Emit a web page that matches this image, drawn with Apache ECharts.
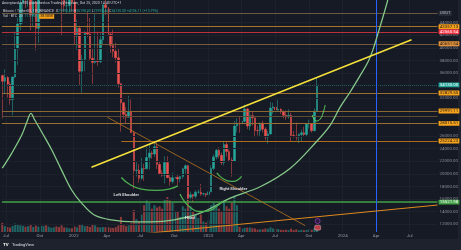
<!DOCTYPE html>
<html>
<head>
<meta charset="utf-8">
<script src="https://cdn.jsdelivr.net/npm/echarts@6.0.0/dist/echarts.min.js"></script>
<style>
  html, body { margin: 0; padding: 0; background: #161a25; }
  #chart { width: 461px; height: 250px; }
</style>
</head>
<body>
<div id="chart"></div>
<script>
// weekly bars, first one = week of 2021-06-21
var WEEK0 = Date.UTC(2021, 5, 21)
function weekOf(y, m, d) { return (Date.UTC(y, m - 1, d) - WEEK0) / (7 * 86400000) }

// [open, high, low, close]
var bars2021 = [
  [35600, 35750, 28800, 34700], [34700, 36600, 32700, 35300], [35300, 35500, 32100, 34250], [34250, 34650, 31000, 31800],
  [31800, 35400, 29300, 35400], [35400, 42600, 35200, 39850], [39850, 44800, 37300, 43800], [43800, 48150, 42800, 47100],
  [47100, 49400, 43900, 49000], [49000, 50500, 46300, 48900], [48900, 52900, 46500, 51800], [51800, 52900, 42800, 45200],
  [45200, 48850, 43400, 47300], [47300, 47400, 39600, 43100], [43100, 49200, 40800, 48200], [48200, 56100, 46900, 54950],
  [54950, 62000, 54400, 61500], [61500, 67000, 59500, 61300], [61300, 63700, 58000, 61800], [61800, 64300, 59400, 63300],
  [63300, 69000, 62300, 65500], [65500, 66300, 55600, 58600], [58600, 59300, 53250, 57300], [57300, 59100, 42000, 49400],
  [49400, 51950, 45700, 46700], [46700, 49500, 45500, 46700], [46700, 51900, 45600, 50800], [50800, 52100, 45700, 47300]
]
var bars2022 = [
  [47300, 47600, 40600, 41850], [41850, 44500, 39650, 43100], [43100, 43500, 34000, 36300], [36300, 38900, 32900, 38150],
  [38150, 42700, 36300, 42400], [42400, 45800, 41700, 42200], [42200, 44750, 38000, 38350], [38350, 39850, 34300, 37700],
  [37700, 45400, 37500, 38050], [38050, 42600, 37150, 37800], [37800, 42300, 37600, 41300], [41300, 46900, 40500, 46830],
  [46830, 48200, 45200, 46400], [46400, 47450, 41800, 42150], [42150, 42450, 39200, 40400], [40400, 42900, 38500, 39450],
  [39450, 40800, 37700, 38450], [38450, 40000, 33700, 34300], [34300, 34450, 26700, 31300], [31300, 31350, 28700, 29450],
  [29450, 30650, 28000, 29000], [29000, 32400, 28900, 29900], [29900, 31800, 26500, 26550], [26550, 26850, 17600, 20550],
  [20550, 21900, 19600, 20600], [20600, 21550, 18600, 19300], [19300, 22500, 19050, 20850], [20850, 21600, 18900, 20800],
  [20800, 24300, 20750, 22600], [22600, 24650, 20700, 23300], [23300, 23650, 22400, 23150], [23150, 25200, 22650, 24300],
  [24300, 25200, 20800, 21500], [21500, 22000, 19800, 20050], [20050, 20600, 19550, 19800], [19800, 22800, 18500, 21800],
  [21800, 22800, 19350, 19400], [19400, 19900, 18130, 18800], [18800, 20200, 18450, 19400], [19300, 20450, 19150, 19450],
  [19450, 19950, 18200, 19200], [19200, 19700, 18650, 19570], [19570, 21000, 19250, 20800], [20800, 21500, 20000, 21300],
  [21300, 21450, 15600, 16300], [16300, 17200, 15800, 16700], [16700, 16800, 15500, 16450], [16450, 17400, 16100, 17100],
  [17100, 17500, 16850, 17100], [17100, 18400, 16500, 16800], [16800, 17000, 16550, 16850], [16850, 16950, 16300, 16700]
]
var bars2023 = [
  [16700, 17200, 16600, 17150], [17150, 21300, 17100, 20850], [20850, 23100, 20600, 22700], [22700, 23950, 22300, 23750],
  [23750, 24250, 22500, 22950], [22950, 23400, 21400, 21800], [21800, 25250, 21350, 24650], [24650, 25250, 22750, 23550],
  [23550, 23900, 21950, 22200], [22200, 22600, 19550, 22000], [22000, 28400, 21900, 27600], [27600, 28850, 26600, 28000],
  [28000, 29200, 26500, 27950], [27950, 28800, 27250, 28350], [28350, 31000, 28150, 30300], [30300, 30500, 27100, 27600],
  [27600, 30000, 26950, 29250], [29250, 29850, 27700, 28900], [28900, 28900, 25800, 26900], [26900, 27650, 26100, 26850],
  [26850, 28200, 25850, 28050], [28050, 28450, 26550, 27100], [27100, 27400, 25350, 25850], [25850, 26800, 24800, 26350],
  [26350, 31400, 26250, 30450], [30450, 31300, 29500, 30600], [30600, 31500, 29700, 30150], [30150, 31800, 29950, 30250],
  [30250, 30450, 29500, 29950], [29950, 30000, 28850, 29300], [29300, 30050, 28600, 29050], [29050, 30250, 28750, 29300],
  [29300, 29700, 25150, 26100], [26100, 26800, 25750, 26000], [26000, 28150, 25350, 25850], [25850, 26450, 24900, 26250],
  [26250, 27000, 25150, 26550], [26550, 27500, 26000, 26250], [26250, 28000, 26000, 27950], [27950, 28600, 27200, 27950],
  [27950, 28000, 26550, 26850], [26850, 30400, 26750, 29950], [29950, 35200, 29950, 34130]
]

// weekly volume, thousand BTC
var vol2021 = [780, 500, 430, 380, 520, 720, 620, 580, 530, 460, 500, 620, 430, 550, 460, 540, 510, 580, 460, 360, 400, 490, 420, 580, 400, 370, 310, 330]
var vol2022 = [480, 390, 600, 680, 500, 520, 430, 600, 570, 410, 400, 420, 410, 420, 370, 350, 410, 570, 1300, 600, 500, 570, 750, 1900, 1100, 900,
  1500, 2300, 2700, 2500, 2000, 2300, 2100, 2200, 2000, 2800, 3000, 2700, 2500, 1700, 1800, 1300, 2200, 2000, 3300, 2200, 1800, 1500, 1200, 1500, 900, 800]
var vol2023 = [1000, 2300, 2500, 2200, 2000, 1800, 2600, 2200, 2000, 2500, 3100, 2300, 450, 280, 360, 380, 380, 330, 300, 210, 230, 240, 300, 280,
  400, 300, 240, 260, 190, 180, 200, 160, 290, 170, 230, 150, 190, 160, 180, 220, 190, 320, 300]
// orange volume average line [week, thousand BTC]
var volAvg = [[0, 600], [15.3, 620], [30.8, 600], [38.5, 480], [46.2, 560], [53.9, 650], [57.7, 770], [61.6, 1370], [63.5, 1630], [65.4, 2140],
  [67.8, 2310], [69.7, 2200], [71.2, 1460], [73.2, 1200], [75.1, 1370], [77, 1460], [79.7, 1710], [82, 1890], [84.7, 2060], [87.4, 2140],
  [89.7, 2570], [90.9, 2400], [92.4, 860], [93.6, 510], [96.3, 300], [104, 260], [111.7, 240], [122.1, 230]]

var timeTickDates = [[2021, 7, 1], [2021, 10, 1], [2022, 1, 1], [2022, 4, 1], [2022, 7, 1], [2022, 10, 1], [2023, 1, 1], [2023, 4, 1],
  [2023, 7, 1], [2023, 10, 1], [2024, 1, 1], [2024, 4, 1], [2024, 7, 1]]
var timeLabels = ['Jul', 'Oct', '2022', 'Apr', 'Jul', 'Oct', '2023', 'Apr', 'Jul', 'Oct', '2024', 'Apr', 'Jul']
var priceLabels = [12000, 14000, 16000, 18000, 20000, 22000, 24000, 26000, 32000, 36000, 38000, 40000, 42000, 44000]
var priceGrid = [12000, 14000, 16000, 18000, 20000, 22000, 24000, 26000, 28000, 30000, 32000, 34000, 36000, 38000, 40000, 42000, 44000]

// horizontal levels drawn on the chart
var levelPrices = [45490, 43357.13, 42560.54, 40651.54, 32829.55, 29991.11, 29190, 28015.51, 15521.98]
var lastPrice = 34130
var partialLevel = [[46.2, 25224.23], [168.8, 25224.23]]
var halvingWeek = 144.9

// drawings [week, price]
var yellowTrend = [[34.6, 21050], [158.7, 41300]]
var orangeFall = [[40.8, 28980], [117.5, 11780]]
var orangeRise = [[50, 10320], [168.8, 15060]]
var bigCurve = [[0, 20900], [3.7, 23300], [7.6, 26200], [9.5, 28200], [11.1, 29600], [12.6, 28550], [15.3, 26650], [19.2, 23800],
  [23, 20600], [26.9, 17450], [30.7, 15400], [35.7, 13480], [42.3, 12700], [51.2, 12400], [57.7, 12400], [66.6, 12700],
  [77, 13800], [88.6, 16200], [100.2, 18000], [111.7, 20900], [121.8, 25100], [127.2, 27750], [131, 30600], [134.9, 33000],
  [138.7, 35550], [141.8, 37750], [143.7, 39650], [145.3, 41750], [146.8, 43800], [148.4, 46000], [149.5, 47600]]
var leftShoulder = [[46.2, 19430], [49.2, 18400], [53.9, 17600], [59.7, 17400], [64.7, 17600], [68.1, 18100]]
var headArc = [[68.9, 16800], [70.8, 15540], [73.2, 14590], [76.2, 14030], [79.7, 14110], [82.8, 14750], [85.5, 15700]]
var rightShoulder = [[83.2, 20150], [85.5, 19270], [88.6, 18800], [90.9, 18950], [92.8, 19600]]
var smallCup = [[120.2, 29350], [121.8, 28400], [123.3, 28700], [124.5, 29800], [125.2, 30950]]
var notes = [['Left Shoulder', 48.1, 16650], ['Head', 72.8, 13000], ['Right Shoulder', 89.6, 17600]]
var eventIcons = [[122.3, 12520], [122.3, 11460]]

var FONT = 'Roboto'
var bars = bars2021.concat(bars2022, bars2023)
var vols = vol2021.concat(vol2022, vol2023)
var candleData = [], volData = []
bars.forEach(function (b, i) {
  candleData.push([i, b[0], b[3], b[2], b[1]])
  volData.push({
    value: [i, vols[i]],
    itemStyle: { color: b[3] >= b[0] ? 'rgba(38,166,154,0.55)' : 'rgba(239,83,80,0.55)' }
  })
})
var tickWeeks = timeTickDates.map(function (d) { return weekOf(d[0], d[1], d[2]) })

function tag(bg, fg, text) {
  return {
    show: true, position: 'end', distance: 1, fontSize: 4.4, fontFamily: FONT,
    color: fg, backgroundColor: bg, padding: [0.6, 1.2, 0.3, 1.2], borderRadius: 0.6,
    formatter: text
  }
}
function lvl(v, line, bg, fg, text) {
  return { yAxis: v, lineStyle: { color: line, width: 1, type: 'solid' }, label: bg ? tag(bg, fg, text || v.toFixed(2)) : { show: false } }
}

var levelLines = [
  lvl(levelPrices[0], '#6a5840', '#2a2e39', '#b2b5be', 'USDT'),
  lvl(levelPrices[1], '#a8772d', '#f7a21b', '#1b1b1b'),
  lvl(levelPrices[2], '#b8333e', '#f23645', '#ffffff'),
  lvl(levelPrices[3], '#735a3c', '#e0913a', '#1b1b1b'),
  lvl(levelPrices[4], '#9a6d30', '#f7a21b', '#1b1b1b'),
  lvl(levelPrices[5], '#8a6834', '#f7a21b', '#1b1b1b'),
  lvl(levelPrices[6], '#5e4b37'),
  lvl(levelPrices[7], '#9a6d30', '#f7a21b', '#1b1b1b'),
  {
    yAxis: levelPrices[8], lineStyle: { color: '#43a047', width: 1.5, type: 'solid' },
    label: tag('#43a047', '#ffffff', levelPrices[8].toFixed(2))
  },
  {
    yAxis: lastPrice, lineStyle: { color: 'rgba(38,166,154,0.5)', width: 0.8, type: [1, 1] },
    label: tag('#26a69a', '#ffffff', lastPrice.toFixed(2))
  },
  [
    { coord: partialLevel[0], lineStyle: { color: '#b06c1e', width: 1, type: 'solid' } },
    { coord: partialLevel[1], label: tag('#f7a21b', '#1b1b1b', partialLevel[1][1].toFixed(2)) }
  ]
]

var gridLines = priceGrid.map(function (p) { return { yAxis: p } })
  .concat(tickWeeks.map(function (w) { return { xAxis: w } }))

function drawing(data, color, width, smooth, z) {
  return {
    type: 'line', data: data, symbol: 'none', smooth: smooth || false, clip: true, silent: true, z: z || 5,
    lineStyle: { color: color, width: width }
  }
}

var chart = echarts.init(document.getElementById('chart'), null, { renderer: 'canvas' })
chart.setOption({
  backgroundColor: '#161a25',
  animation: false,
  grid: { left: 0, right: 23, top: 0, bottom: 18 },
  xAxis: {
    type: 'value', min: -0.12, max: 168.8,
    axisLine: { show: false }, axisTick: { show: false }, splitLine: { show: false },
    axisLabel: {
      customValues: tickWeeks, margin: 1.5, fontSize: 4.4, fontFamily: FONT, color: '#9598a1',
      formatter: function (v) {
        for (var i = 0; i < tickWeeks.length; i++) if (Math.abs(tickWeeks[i] - v) < 0.01) return timeLabels[i]
        return ''
      }
    }
  },
  yAxis: [{
    type: 'value', position: 'right', min: 10778, max: 47603, scale: true,
    axisLine: { show: false }, axisTick: { show: false }, splitLine: { show: false },
    axisLabel: {
      customValues: priceLabels, margin: 2, fontSize: 4.4, fontFamily: FONT, color: '#8a8e99',
      formatter: function (v) { return v.toFixed(2) }
    }
  }, {
    type: 'value', min: 0, max: 19900, show: false
  }],
  series: [
    {
      type: 'line', data: [], silent: true, z: 0,
      markLine: {
        silent: true, symbol: ['none', 'none'], label: { show: false }, animation: false,
        lineStyle: { color: '#1d212c', width: 1, type: 'solid' }, data: gridLines
      }
    },
    { type: 'bar', yAxisIndex: 1, data: volData, barWidth: 2, silent: true, z: 1 },
    drawing(volAvg, '#d98a1e', 0.9, false, 2),
    {
      type: 'candlestick', data: candleData, encode: { x: 0, y: [1, 2, 3, 4] }, barWidth: 2, clip: true, z: 3,
      itemStyle: { color: '#26a69a', color0: '#ef5350', borderColor: '#26a69a', borderColor0: '#ef5350', borderWidth: 0.5 }
    },
    {
      type: 'line', data: [], silent: true, z: 4,
      markLine: { silent: true, symbol: ['none', 'none'], animation: false, precision: 2, data: levelLines }
    },
    {
      type: 'line', data: [], silent: true, z: 4,
      markLine: {
        silent: true, symbol: ['none', 'none'], label: { show: false }, animation: false,
        lineStyle: { color: '#2962ff', width: 1, type: 'solid' }, data: [{ xAxis: halvingWeek }]
      }
    },
    drawing(orangeFall, '#b8731f', 0.8),
    drawing(orangeRise, '#e08a1e', 1),
    drawing(bigCurve, '#86c88a', 1.3, 0.35),
    drawing(leftShoulder, '#4caf50', 1.3, 0.5),
    drawing(headArc, '#4caf50', 1.3, 0.5),
    drawing(rightShoulder, '#4caf50', 1.3, 0.5),
    drawing(smallCup, '#5fd35f', 1, 0.5),
    drawing(yellowTrend, '#f5e13b', 1.5, false, 6),
    {
      type: 'scatter', silent: true, z: 7, symbolSize: 0,
      data: notes.map(function (n) { return { name: n[0], value: [n[1], n[2]] } }),
      label: { show: true, position: 'inside', formatter: '{b}', fontSize: 4.2, fontFamily: FONT, color: '#ffffff', fontWeight: 'bold' }
    },
    {
      type: 'scatter', silent: true, z: 7,
      data: [
        { value: eventIcons[0], symbol: 'circle', symbolSize: 5, itemStyle: { color: '#2a1f3d', borderColor: '#b03fd6', borderWidth: 0.8 } },
        { value: eventIcons[1], symbol: 'roundRect', symbolSize: [6, 5], itemStyle: { color: '#e8454f', borderColor: '#ffffff', borderWidth: 0.4 } }
      ]
    }
  ],
  graphic: [
    { type: 'rect', shape: { x: 0, y: 239, width: 461, height: 11 }, style: { fill: '#1e222d' }, z: 0 },
    { type: 'rect', shape: { x: 458, y: 0, width: 3, height: 239 }, style: { fill: '#1e222d' }, z: 0 },
    {
      type: 'text', x: 2, y: 3, z: 100,
      style: { text: 'Anonytardus100 published on TradingView.com, Oct 25, 2023 14:40 UTC+1', fill: '#d1d4dc', font: '3.6px ' + FONT, verticalAlign: 'middle' }
    },
    {
      type: 'text', x: 3, y: 11.5, z: 100,
      style: {
        text: '{g|Bitcoin / TetherUS, 1W, BINANCE}  {g|O}{v|29993.89} {g|H}{v|35198.00} {g|L}{v|29992.46} {g|C}{v|34130.00} {v|+4136.11 (+13.79%)}',
        font: '3.5px ' + FONT, verticalAlign: 'middle',
        rich: { g: { fill: '#c9ccd4', font: '3.5px ' + FONT }, v: { fill: '#26a69a', font: '3.5px ' + FONT } }
      }
    },
    {
      type: 'text', x: 3, y: 16.5, z: 100,
      style: {
        text: '{g|Vol · BTC  20}  {v|71.235K}  {o|38.585K}',
        font: '3.5px ' + FONT, verticalAlign: 'middle',
        rich: {
          g: { fill: '#c9ccd4', font: '3.5px ' + FONT },
          v: { fill: '#26a69a', font: '3.5px ' + FONT },
          o: { fill: '#1b1b1b', backgroundColor: '#f7a21b', padding: [0.4, 1, 0.2, 1], font: '3.5px ' + FONT }
        }
      }
    },
    {
      type: 'text', x: 3, y: 244.5, z: 100,
      style: {
        text: '{b|TV} {n|TradingView}', verticalAlign: 'middle',
        rich: { b: { fill: '#ffffff', font: 'bold 4.4px ' + FONT }, n: { fill: '#e0e3eb', font: '4px ' + FONT } }
      }
    }
  ]
})
</script>
</body>
</html>
